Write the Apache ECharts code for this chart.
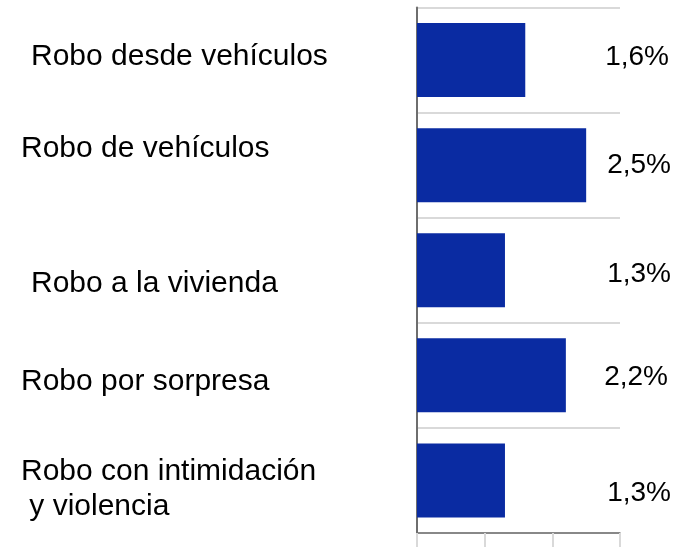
<!DOCTYPE html>
<html>
<head>
<meta charset="utf-8">
<script src="https://cdn.jsdelivr.net/npm/echarts@6/dist/echarts.min.js"></script>
<style>
html,body{margin:0;padding:0;background:#fff;}
#chart{width:681px;height:547px;}
</style>
</head>
<body>
<div id="chart"></div>
<script>
// ---- data ----
var categories = [
  'Robo desde vehículos',
  'Robo de vehículos',
  'Robo a la vivienda',
  'Robo por sorpresa',
  'Robo con intimidación\n y violencia'
];
var values = [1.6, 2.5, 1.3, 2.2, 1.3];
var xTicks = [0, 1, 2, 3];

// ---- label placement (style, not data) ----
var catLabelShift = [[10, -3], [0, -16], [10, 13], [0, 6], [0, 9]]; // [dx, dy]
var valLabelShift = [[-1, -3], [1, 0], [1, 4], [-2, 2], [1, 13]];   // [dx, dy]

var FONT = '"Liberation Sans", Arial, sans-serif';
var CAT_FONT = 30;

var rich = { g: { fontSize: 1, lineHeight: 1 } };
catLabelShift.forEach(function (s, i) {
  rich['t' + i] = {
    fontFamily: FONT, fontSize: CAT_FONT, lineHeight: 35, color: '#000000',
    padding: [0, 0, 0, s[0]]
  };
  rich['g' + i] = { fontSize: 1, lineHeight: Math.max(1, 2 * Math.abs(s[1])) };
});

function catFormatter(value, index) {
  var s = catLabelShift[index];
  var lines = String(value).split('\n').map(function (l) {
    return '{t' + index + '|' + l + '}';
  });
  var body = lines.join('\n');
  var gap = '{g' + index + '| }';
  if (s[1] < 0) return body + '\n' + gap;
  if (s[1] > 0) return gap + '\n' + body;
  return body;
}

var labelPoints = values.map(function (v, i) {
  return {
    value: [xTicks[xTicks.length - 1], i],
    raw: v,
    label: { offset: [valLabelShift[i][0], valLabelShift[i][1]] }
  };
});

var chart = echarts.init(document.getElementById('chart'), null, { renderer: 'canvas' });
chart.setOption({
  animation: false,
  backgroundColor: '#ffffff',
  grid: { left: 417, right: 61, top: 7.5, bottom: 14, containLabel: false, outerBoundsMode: 'none' },
  xAxis: {
    type: 'value',
    min: xTicks[0],
    max: xTicks[xTicks.length - 1],
    interval: 1,
    axisLine: { show: true, onZero: false, lineStyle: { color: '#6e6e6e', width: 1.5 } },
    axisTick: { show: true, length: 14, inside: false, lineStyle: { color: '#d9d9d9', width: 2 } },
    axisLabel: { show: false },
    splitLine: { show: false }
  },
  yAxis: {
    type: 'category',
    inverse: true,
    data: categories,
    axisLine: { show: true, lineStyle: { color: '#6e6e6e', width: 2 } },
    axisTick: { show: false },
    splitLine: { show: true, lineStyle: { color: '#d9d9d9', width: 2 } },
    axisLabel: {
      align: 'left',
      verticalAlign: 'middle',
      margin: 396,
      color: '#000000',
      fontFamily: FONT,
      fontSize: CAT_FONT,
      lineHeight: 35,
      formatter: catFormatter,
      rich: rich
    }
  },
  series: [
    {
      type: 'bar',
      data: values,
      barWidth: 74,
      itemStyle: { color: '#0a2ba2' },
      z: 2
    },
    {
      type: 'scatter',
      data: labelPoints,
      symbolSize: 0,
      clip: false,
      silent: true,
      itemStyle: { opacity: 1 },
      label: {
        show: true,
        position: [50, 0],
        align: 'right',
        verticalAlign: 'middle',
        color: '#000000',
        opacity: 1,
        fontFamily: FONT,
        fontSize: 28,
        formatter: function (p) {
          return String(p.data.raw.toFixed(1)).replace('.', ',') + '%';
        }
      },
      z: 3
    }
  ]
});
</script>
</body>
</html>
